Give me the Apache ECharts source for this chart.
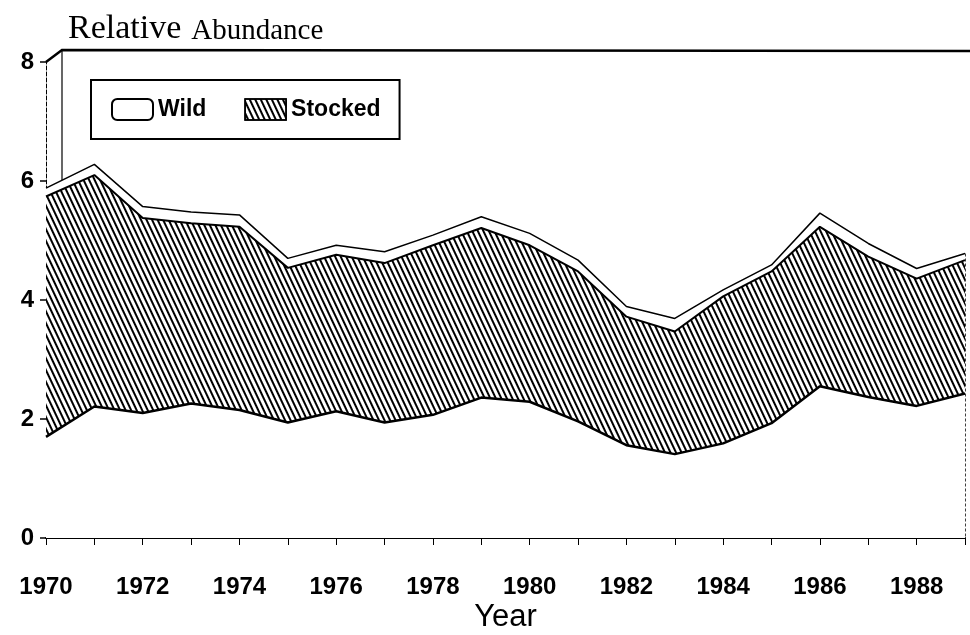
<!DOCTYPE html>
<html>
<head>
<meta charset="utf-8">
<script src="https://cdn.jsdelivr.net/npm/echarts@6/dist/echarts.min.js"></script>
<style>
  html, body { margin: 0; padding: 0; background: #fff; }
  #chart { width: 970px; height: 635px; }
</style>
</head>
<body>
<div id="chart"></div>
<script>
const years = ['1970', '1971', '1972', '1973', '1974', '1975', '1976', '1977', '1978', '1979',
  '1980', '1981', '1982', '1983', '1984', '1985', '1986', '1987', '1988', '1989']
// lower unshaded band (0 up to the bottom line)
const baseBand = [1.70, 2.21, 2.10, 2.26, 2.15, 1.94, 2.13, 1.94, 2.07, 2.36,
  2.29, 1.96, 1.56, 1.41, 1.59, 1.93, 2.55, 2.37, 2.22, 2.43]
// hatched band thickness
const stockedBand = [4.04, 3.89, 3.28, 3.03, 3.08, 2.60, 2.63, 2.68, 2.85, 2.85,
  2.63, 2.52, 2.16, 2.06, 2.47, 2.55, 2.68, 2.36, 2.14, 2.24]
// thin white band on top
const wildBand = [0.14, 0.18, 0.19, 0.19, 0.20, 0.16, 0.16, 0.19, 0.17, 0.19,
  0.20, 0.19, 0.17, 0.22, 0.11, 0.11, 0.23, 0.22, 0.17, 0.11]
const yTicks = [0, 2, 4, 6, 8]

const GRID = { left: 46, right: 5, top: 62, bottom: 97 }

const hatch = {
  symbol: 'rect',
  symbolSize: 1,
  color: '#000',
  dashArrayX: [1, 0],
  dashArrayY: [1.3, 2.3],
  rotation: Math.PI * 0.36
}

const chart = echarts.init(document.getElementById('chart'))

const option = {
  backgroundColor: '#fff',
  animation: false,
  title: {
    left: 63,
    top: 7,
    text: '{a|Relative}  {b|Abundance}',
    textStyle: {
      fontWeight: 'normal',
      rich: {
        a: { fontFamily: 'Liberation Serif', fontWeight: 'normal', fontSize: 34, color: '#000', verticalAlign: 'bottom' },
        b: { fontFamily: 'Liberation Serif', fontWeight: 'normal', fontSize: 29, color: '#000', verticalAlign: 'bottom' }
      }
    }
  },
  legend: {
    left: 91,
    top: 80,
    padding: [18, 19, 18, 20],
    borderColor: '#000',
    borderWidth: 2,
    itemWidth: 41,
    itemHeight: 21,
    itemGap: 38,
    textStyle: { fontFamily: 'Liberation Sans', fontWeight: 'bold', fontSize: 23, color: '#000' },
    data: [
      { name: 'Wild', icon: 'roundRect', itemStyle: { color: '#fff', borderColor: '#000', borderWidth: 2 } },
      { name: 'Stocked', icon: 'rect', itemStyle: { color: '#fff', borderColor: '#000', borderWidth: 1.5, decal: hatch } }
    ]
  },
  grid: Object.assign({ outerBoundsMode: 'none', containLabel: false }, GRID),
  xAxis: {
    type: 'category',
    boundaryGap: false,
    data: years,
    name: 'Year',
    nameLocation: 'middle',
    nameGap: 64,
    nameMoveOverlap: false,
    nameTextStyle: { fontFamily: 'Liberation Sans', fontSize: 31, color: '#000' },
    axisLine: { lineStyle: { color: '#000', width: 2 } },
    axisTick: { show: true, interval: 0, length: 7, lineStyle: { color: '#000', width: 1 } },
    axisLabel: {
      interval: 1,
      margin: 37,
      fontFamily: 'Liberation Sans',
      fontWeight: 'bold',
      fontSize: 24,
      color: '#000'
    },
    splitLine: { show: false }
  },
  yAxis: {
    type: 'value',
    min: yTicks[0],
    max: yTicks[yTicks.length - 1],
    interval: 2,
    axisLine: { show: true, lineStyle: { color: '#000', width: 1, type: [4, 2] } },
    axisTick: { show: true, length: 6, lineStyle: { color: '#000', width: 1.5 } },
    axisLabel: {
      margin: 12,
      fontFamily: 'Liberation Sans',
      fontWeight: 'bold',
      fontSize: 24,
      color: '#000'
    },
    splitLine: { show: false }
  },
  series: [
    {
      name: 'Base',
      type: 'line',
      stack: 'total',
      data: baseBand,
      showSymbol: false,
      lineStyle: { color: '#000', width: 2.5 },
      itemStyle: { color: '#000' },
      areaStyle: { color: '#fff', opacity: 1 }
    },
    {
      name: 'Stocked',
      type: 'line',
      stack: 'total',
      data: stockedBand,
      showSymbol: false,
      lineStyle: { color: '#000', width: 2 },
      itemStyle: { color: '#fff', decal: hatch },
      areaStyle: { color: '#fff', opacity: 1 }
    },
    {
      name: 'Wild',
      type: 'line',
      stack: 'total',
      data: wildBand,
      showSymbol: false,
      lineStyle: { color: '#000', width: 1.5 },
      itemStyle: { color: '#fff' },
      areaStyle: { color: '#fff', opacity: 1 }
    }
  ]
}

chart.setOption(option)

// box frame drawn around the plot like the original figure
const W = 970
const x0 = GRID.left
const y8 = GRID.top
const lastIdx = years.length - 1
const lastTotal = baseBand[lastIdx] + stockedBand[lastIdx] + wildBand[lastIdx]
const xEnd = chart.convertToPixel({ xAxisIndex: 0 }, lastIdx)
const yEndTop = chart.convertToPixel({ yAxisIndex: 0 }, lastTotal)
const yZero = chart.convertToPixel({ yAxisIndex: 0 }, 0)
const firstTotal = baseBand[0] + stockedBand[0] + wildBand[0]
const yStartTop = chart.convertToPixel({ yAxisIndex: 0 }, firstTotal)

chart.setOption({
  graphic: [
    {
      type: 'polyline',
      shape: { points: [[x0, y8], [x0 + 16, y8 - 12], [W, y8 - 11]] },
      style: { stroke: '#000', lineWidth: 2.5, fill: null }
    },
    {
      type: 'line',
      shape: { x1: x0 + 16, y1: y8 - 12, x2: x0 + 16, y2: yStartTop - 4 },
      style: { stroke: '#000', lineWidth: 1.2 }
    },
    {
      type: 'line',
      shape: { x1: xEnd, y1: yEndTop, x2: xEnd, y2: yZero },
      style: { stroke: '#000', lineWidth: 1.5, lineDash: [3, 2] }
    }
  ]
})
</script>
</body>
</html>
